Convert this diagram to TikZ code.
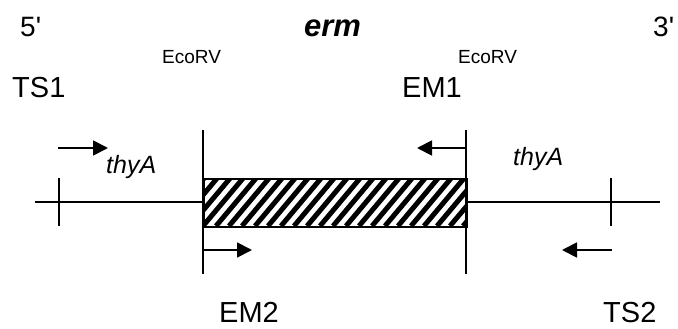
\documentclass[tikz,border=0pt]{standalone}
\usepackage{fontspec}
\setmainfont{Liberation Sans}
\usetikzlibrary{arrows.meta}
\tikzset{
  lbl/.style={inner sep=0pt, anchor=base west, font=\fontsize{29}{34}\selectfont},
  small/.style={inner sep=0pt, anchor=base west, font=\fontsize{19}{22}\selectfont},
  gene/.style={inner sep=0pt, anchor=base west, font=\fontsize{25}{30}\selectfont\itshape},
  dna/.style={line width=1.8pt},
  primer/.style={line width=1.8pt, -{Triangle[length=15pt,width=15pt]}},
  stripe/.style={line width=5pt}
}
\begin{document}
\begin{tikzpicture}[x=1pt,y=-1pt]
\useasboundingbox (0,0) rectangle (678,329);
% coordinates
\coordinate (L0) at (35,202);
\coordinate (L1) at (203,202);
\coordinate (R1) at (466,202);
\coordinate (R0) at (660,202);
\coordinate (VLt) at (203,130);
\coordinate (VLb) at (203,274);
\coordinate (VRt) at (466,130);
\coordinate (VRb) at (466,274);
\coordinate (TLt) at (59,178);
\coordinate (TLb) at (59,226);
\coordinate (TRt) at (611,178);
\coordinate (TRb) at (611,226);
\coordinate (a1s) at (58,148);
\coordinate (a1e) at (108,148);
\coordinate (a2s) at (466,148);
\coordinate (a2e) at (417,148);
\coordinate (a3s) at (203,250);
\coordinate (a3e) at (252,250);
\coordinate (a4s) at (612,250);
\coordinate (a4e) at (562,250);
% hatched box
\begin{scope}
  \clip (203,178) rectangle (466,226);
  \foreach \i in {-4,...,22} {
    \draw[stripe] (203+\i*13,226) -- ++(40.3,-48);
  }
\end{scope}
\node[draw, line width=2.2pt, inner sep=0pt, minimum width=263pt, minimum height=48pt, anchor=north west] (box) at (203,178) {};
% DNA line
\draw[dna] (L0) -- (L1);
\draw[dna] (R1) -- (R0);
% verticals
\draw[dna] (VLt) -- (VLb);
\draw[dna] (VRt) -- (VRb);
\draw[dna] (TLt) -- (TLb);
\draw[dna] (TRt) -- (TRb);
% primers
\draw[primer] (a1s) -- (a1e);
\draw[primer] (a2s) -- (a2e);
\draw[primer] (a3s) -- (a3e);
\draw[primer] (a4s) -- (a4e);
% texts
\node[lbl, font=\fontsize{28}{33}\selectfont] (five) at (20,37) {5\textquotesingle};
\node[lbl, font=\fontsize{31}{36}\selectfont\bfseries\itshape] (erm) at (304,37) {erm};
\node[lbl, font=\fontsize{28}{33}\selectfont] (three) at (653,37) {3\textquotesingle};
\node[small] (eco1) at (162,64) {EcoRV};
\node[small] (eco2) at (458,64) {EcoRV};
\node[lbl] (ts1) at (12,98) {TS1};
\node[lbl] (em1) at (402,98) {EM1};
\node[gene] (thy1) at (106,173) {thyA};
\node[gene] (thy2) at (513,165) {thyA};
\node[lbl] (em2) at (219,322) {EM2};
\node[lbl] (ts2) at (603,322) {TS2};
\end{tikzpicture}
\end{document}
